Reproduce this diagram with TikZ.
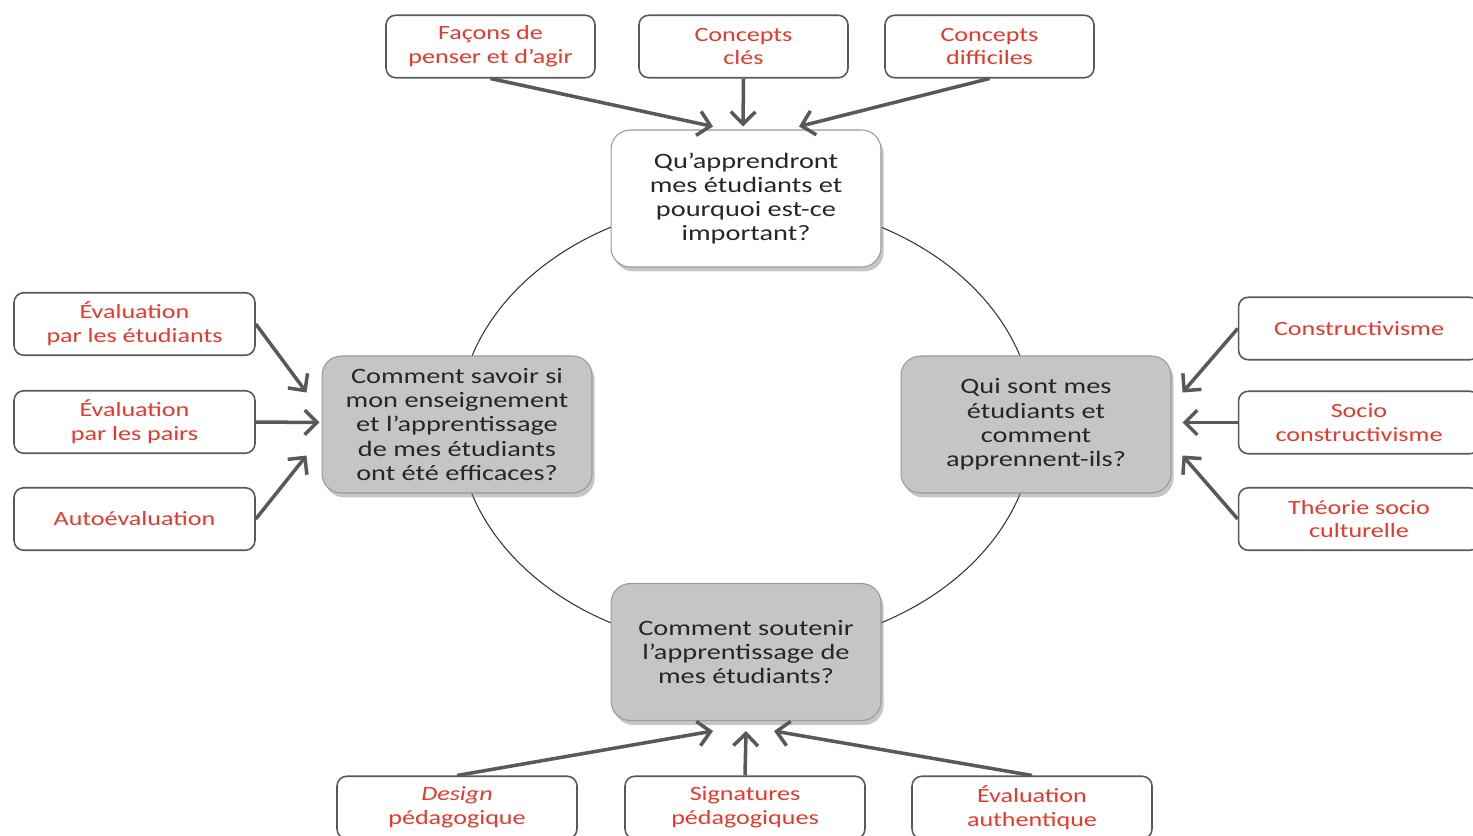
\documentclass[tikz,border=0pt]{standalone}
\usepackage{fontspec}
\setmainfont[FakeStretch=1.29]{Carlito}
\usetikzlibrary{arrows.meta,shadows,calc}
\definecolor{boxred}{RGB}{229,57,43}
\definecolor{arrowgray}{RGB}{89,89,89}
\definecolor{qgray}{RGB}{197,197,197}
\definecolor{textdark}{RGB}{38,38,38}
\newcommand{\boxfont}{\fontsize{11.5}{13.6}\selectfont}
\newcommand{\questfont}{\fontsize{12.5}{13.8}\selectfont}

\begin{document}
\begin{tikzpicture}[x=0.02cm,y=-0.02cm,
    question/.style={draw=black!40,line width=0.6pt,rounded corners=11pt,minimum width=5.4cm,minimum height=2.74cm,align=center,text=textdark,font=\questfont,drop shadow={shadow xshift=1.5pt,shadow yshift=-2.5pt,opacity=0.45}},
    topic/.style={draw=black!65,line width=0.9pt,rounded corners=5.5pt,fill=white,align=center,text=boxred,font=\boxfont,inner sep=0pt,minimum height=1.25cm},
    feed/.style={draw=arrowgray,line width=2pt,-{Straight Barb[length=7pt,width=14pt]}}]
    \useasboundingbox (0,0) rectangle (1473,835);
    \clip (0,0) rectangle (1473,835);
    % cycle
    \draw[black!80,line width=0.6pt] (746,425) ellipse [x radius=5.76cm,y radius=4.48cm];
    % questions
    \node[question,fill=white] (quoi) at (746,198.5) {Qu’apprendront\\mes étudiants et\\pourquoi est-ce\\important?};
    \node[question,fill=qgray] (qui) at (1036,424.5) {Qui sont mes\\étudiants et\\comment\\apprennent-ils?};
    \node[question,fill=qgray] (soutenir) at (746,652) {Comment soutenir\\l’apprentissage de\\mes étudiants?};
    \node[question,fill=qgray] (savoir) at (457,424.5) {Comment savoir si\\mon enseignement\\et l’apprentissage\\de mes étudiants\\ont été efficaces?};
    % top topics
    \node[topic,minimum width=4.18cm] (facons) at (490.5,46.5) {Façons de\\penser et d’agir};
    \node[topic,minimum width=4.18cm] (cles) at (743.5,46.5) {Concepts\\clés};
    \node[topic,minimum width=4.18cm] (difficiles) at (989.5,46.5) {Concepts\\difficiles};
    \draw[feed] (facons.south) -- ($(quoi.north)+(-33,-3)$);
    \draw[feed] (cles.south) -- ($(quoi.north)+(-3,-3)$);
    \draw[feed] (difficiles.south) -- ($(quoi.north)+(53,-3)$);
    % left topics
    \node[topic,minimum width=4.82cm] (etudiants) at (134.5,324) {Évaluation\\par les étudiants};
    \node[topic,minimum width=4.82cm] (pairs) at (134.5,422) {Évaluation\\par les pairs};
    \node[topic,minimum width=4.82cm] (auto) at (134.5,519) {Autoévaluation};
    \draw[feed] (etudiants.east) -- ($(savoir.west)+(-15,-32)$);
    \draw[feed] (pairs.east) -- ($(savoir.west)+(-2,-2)$);
    \draw[feed] (auto.east) -- ($(savoir.west)+(-15,31)$);
    % right topics
    \node[topic,minimum width=4.82cm] (construct) at (1359,328.5) {Constructivisme};
    \node[topic,minimum width=4.82cm] (socio) at (1359,422.5) {Socio\\constructivisme};
    \node[topic,minimum width=4.82cm] (culture) at (1359,519) {Théorie socio\\culturelle};
    \draw[feed] (construct.west) -- ($(qui.east)+(11,-32)$);
    \draw[feed] (socio.west) -- ($(qui.east)+(11,-2)$);
    \draw[feed] (culture.west) -- ($(qui.east)+(11,31)$);
    % bottom topics
    \node[topic,minimum width=4.8cm] (design) at (457,807.5) {\textit{Design}\\pédagogique};
    \node[topic,minimum width=4.8cm] (signatures) at (745,807.5) {Signatures\\pédagogiques};
    \node[topic,minimum width=4.8cm] (authentique) at (1032,807.5) {Évaluation\\authentique};
    \draw[feed] (design.north) -- ($(soutenir.south)+(-33,10)$);
    \draw[feed] (signatures.north) -- ($(soutenir.south)+(0,10)$);
    \draw[feed] (authentique.north) -- ($(soutenir.south)+(28,10)$);
\end{tikzpicture}
\end{document}
